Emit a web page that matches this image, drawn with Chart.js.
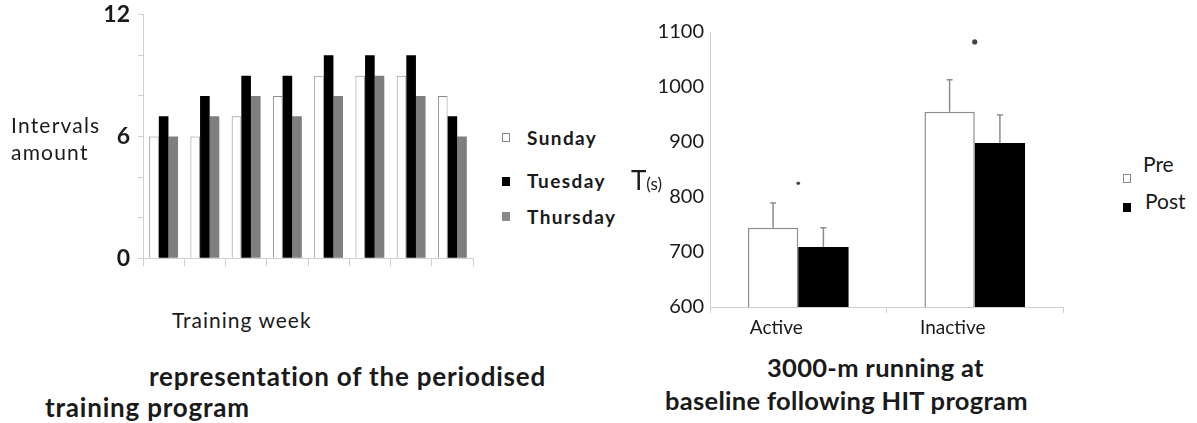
<!DOCTYPE html>
<html>
<head>
<meta charset="utf-8">
<script src="https://cdn.jsdelivr.net/npm/chart.js@4"></script>
<style>
  body { margin: 0; background: #fff; width: 1197px; height: 423px; position: relative; overflow: hidden; font-family: Lato, "Open Sans", sans-serif; color: #1a1a1a; }
  .box { position: absolute; }
  .t { position: absolute; white-space: nowrap; line-height: 1; }
  .b { font-weight: bold; }
  .sq { position: absolute; width: 8px; height: 9px; box-sizing: border-box; }
</style>
</head>
<body>

<div class="box" style="left:60px;top:-7px;width:425px;height:287px;"><canvas id="weeksChart"></canvas></div>
<div class="box" style="left:640px;top:0;width:440px;height:345px;"><canvas id="runChart"></canvas></div>

<!-- left panel texts -->
<div class="t" style="left:11px;top:114px;font-size:21px;letter-spacing:1.2px;">Intervals</div>
<div class="t" style="left:11px;top:141px;font-size:21px;letter-spacing:1.2px;">amount</div>
<div class="t" style="left:172px;top:309px;font-size:21px;letter-spacing:1px;">Training week</div>

<div class="sq" style="left:502px;top:133px;border:1.5px solid #888;background:#fff;"></div>
<div class="t b" style="left:527px;top:128px;font-size:19px;letter-spacing:1.4px;">Sunday</div>
<div class="sq" style="left:502px;top:177px;background:#000;"></div>
<div class="t b" style="left:527px;top:171px;font-size:19px;letter-spacing:1.4px;">Tuesday</div>
<div class="sq" style="left:502px;top:212px;background:#8a8a8a;"></div>
<div class="t b" style="left:527px;top:207px;font-size:19px;letter-spacing:1.4px;">Thursday</div>

<div class="t b" style="left:149px;top:363px;font-size:26px;letter-spacing:0.8px;">representation of the periodised</div>
<div class="t b" style="left:45px;top:394px;font-size:26px;letter-spacing:0.8px;">training program</div>

<!-- right panel texts -->
<div class="t" style="left:631px;top:167px;font-size:26px;">T<span style="font-size:17px;">(s)</span></div>

<div class="sq" style="left:1123px;top:174px;border:1.5px solid #888;background:#fff;"></div>
<div class="t" style="left:1143px;top:153px;font-size:21px;">Pre</div>
<div class="sq" style="left:1123px;top:203px;background:#000;"></div>
<div class="t" style="left:1145px;top:190px;font-size:21px;">Post</div>

<div class="t b" style="left:767px;top:355px;font-size:25.5px;letter-spacing:0.3px;">3000-m running at</div>
<div class="t b" style="left:665px;top:388px;font-size:25.5px;letter-spacing:0.3px;">baseline following HIT program</div>

<script>
// left chart data
const weeks = ['1', '2', '3', '4', '5', '6', '7', '8'];
const sunday = [6, 6, 7, 8, 9, 9, 9, 8];
const tuesday = [7, 8, 9, 9, 10, 10, 10, 7];
const thursday = [6, 7, 8, 7, 8, 9, 8, 6];
const weekTickLabels = [0, 6, 12];

// right chart data
const groups = ['Active', 'Inactive'];
const pre = [744, 955];
const post = [709, 898];
const preErr = [45, 58];
const postErr = [35, 51];
const starLevel = [825, 1082];

const axisGrey = '#cfcfcf';

new Chart(document.getElementById('weeksChart'), {
  type: 'bar',
  data: {
    labels: weeks,
    datasets: [
      { label: 'Sunday', data: sunday, backgroundColor: '#fff', borderColor: '#8c8c8c', borderWidth: 1 },
      { label: 'Tuesday', data: tuesday, backgroundColor: '#000', borderWidth: 0 },
      { label: 'Thursday', data: thursday, backgroundColor: '#7f7f7f', borderWidth: 0 }
    ]
  },
  options: {
    responsive: true,
    maintainAspectRatio: false,
    animation: false,
    layout: { padding: { top: 13, right: 12, left: 0, bottom: 0 } },
    datasets: { bar: { barPercentage: 1, categoryPercentage: 0.7 } },
    plugins: { legend: { display: false }, tooltip: { enabled: false } },
    scales: {
      x: {
        grid: { offset: true, drawOnChartArea: false, drawTicks: true, tickLength: 8, color: axisGrey },
        border: { color: axisGrey },
        ticks: { display: false },
        afterFit: scale => { scale.height = 14; }
      },
      y: {
        min: 0,
        max: 12,
        grid: { drawOnChartArea: false, drawTicks: true, tickLength: 5, color: axisGrey },
        border: { color: axisGrey },
        ticks: {
          stepSize: 2,
          padding: 8,
          color: '#1a1a1a',
          font: { family: 'Lato', size: 23, weight: 'bold' },
          callback: v => weekTickLabels.includes(v) ? v : ''
        },
        afterFit: scale => { scale.width = 83; }
      }
    }
  }
});

// error bars drawn upwards from the top of each bar
const errorBars = {
  id: 'errorBars',
  afterDatasetsDraw(chart) {
    const ctx = chart.ctx;
    const yScale = chart.scales.y;
    const errs = [preErr, postErr];
    ctx.save();
    ctx.strokeStyle = '#8c8c8c';
    ctx.lineWidth = 1.5;
    errs.forEach((err, di) => {
      const meta = chart.getDatasetMeta(di);
      meta.data.forEach((bar, i) => {
        const val = chart.data.datasets[di].data[i];
        const yTop = yScale.getPixelForValue(val + err[i]);
        const yBase = yScale.getPixelForValue(val);
        ctx.beginPath();
        ctx.moveTo(bar.x, yBase);
        ctx.lineTo(bar.x, yTop);
        ctx.moveTo(bar.x - 3, yTop);
        ctx.lineTo(bar.x + 3, yTop);
        ctx.stroke();
      });
    });
    ctx.restore();
  }
};

new Chart(document.getElementById('runChart'), {
  type: 'bar',
  data: {
    labels: groups,
    datasets: [
      { label: 'Pre', data: pre, backgroundColor: '#fff', borderColor: '#8c8c8c', borderWidth: 1.5, order: 2 },
      { label: 'Post', data: post, backgroundColor: '#000', borderWidth: 0, order: 2 },
      {
        type: 'line', label: '*', data: starLevel, showLine: false,
        pointRadius: [1.8, 2.6], pointBackgroundColor: '#444', pointBorderWidth: 0, order: 1
      }
    ]
  },
  options: {
    responsive: true,
    maintainAspectRatio: false,
    animation: false,
    layout: { padding: { top: 32, right: 17, left: 0, bottom: 0 } },
    datasets: { bar: { barPercentage: 1, categoryPercentage: 0.57 } },
    plugins: { legend: { display: false }, tooltip: { enabled: false } },
    scales: {
      x: {
        grid: { offset: true, drawOnChartArea: false, drawTicks: true, tickLength: 6, color: axisGrey },
        border: { color: axisGrey },
        ticks: { padding: 3, labelOffset: -22, color: '#1a1a1a', font: { family: 'Lato', size: 19 } },
        afterFit: scale => { scale.height = 38; }
      },
      y: {
        min: 600,
        max: 1100,
        grid: { drawOnChartArea: false, drawTicks: false, color: axisGrey },
        border: { color: axisGrey },
        ticks: { stepSize: 100, padding: 6, color: '#1a1a1a', font: { family: 'Lato', size: 20 }, callback: v => String(v) },
        afterFit: scale => { scale.width = 70; }
      }
    }
  },
  plugins: [errorBars]
});
</script>
</body>
</html>
